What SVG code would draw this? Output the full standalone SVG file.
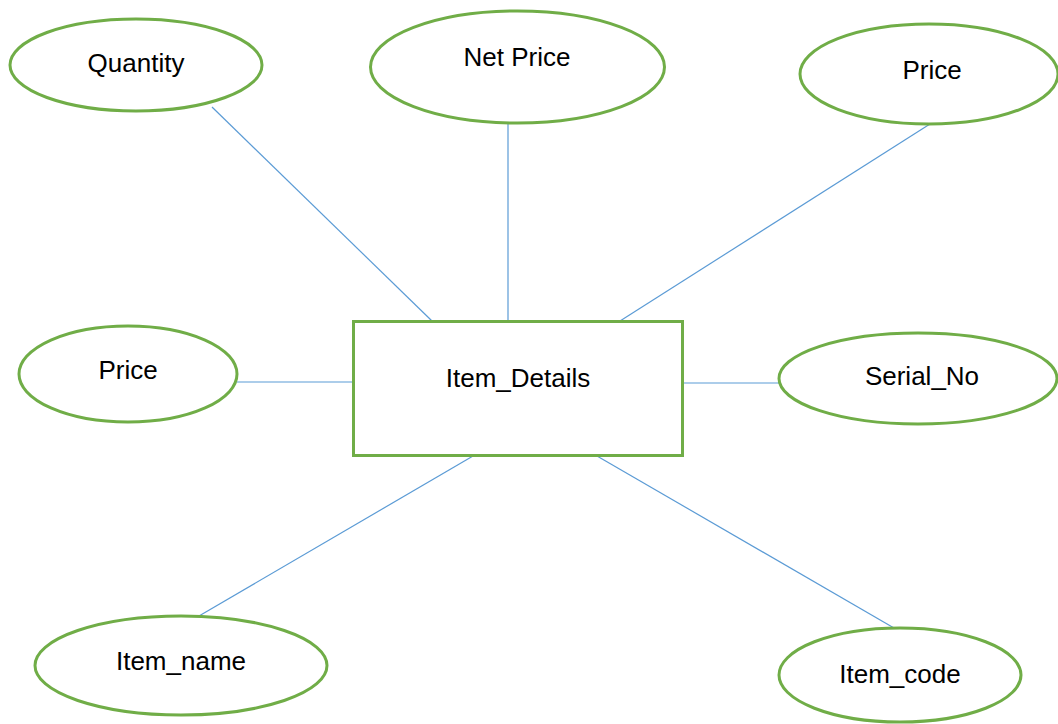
<svg xmlns="http://www.w3.org/2000/svg" width="1058" height="724" viewBox="0 0 1058 724">
<style>
.n{fill:#fff;stroke:#70AD47;stroke-width:3}
.t{font-family:"Liberation Sans",Arial,sans-serif;font-size:26px;fill:#000;text-anchor:middle}
.c line{stroke:#5B9BD5;stroke-width:1.2}
</style>
<rect width="1058" height="724" fill="#fff"/>
<g class="c" id="connectors">
<line x1="212" y1="107" x2="432" y2="321"/>
<line x1="508" y1="124" x2="508" y2="321"/>
<line x1="930" y1="124" x2="620" y2="321"/>
<line x1="237" y1="382" x2="353" y2="382"/>
<line x1="683" y1="383" x2="779" y2="383"/>
<line x1="199" y1="616" x2="473" y2="456"/>
<line x1="894" y1="628" x2="597" y2="456"/>
</g>
<g id="item_details"><rect class="n" x="353.5" y="321.5" width="329" height="134"/><text class="t" x="518" y="387">Item_Details</text></g>
<g id="quantity"><ellipse class="n" cx="136" cy="65" rx="126" ry="46"/><text class="t" x="136" y="72">Quantity</text></g>
<g id="net_price"><ellipse class="n" cx="517.5" cy="67" rx="147" ry="56"/><text class="t" x="517" y="66">Net Price</text></g>
<g id="price_top"><ellipse class="n" cx="929" cy="74" rx="129" ry="50"/><text class="t" x="932" y="79">Price</text></g>
<g id="price_left"><ellipse class="n" cx="128" cy="374" rx="109" ry="48"/><text class="t" x="128" y="379">Price</text></g>
<g id="serial_no"><ellipse class="n" cx="918" cy="378.5" rx="139" ry="45.5"/><text class="t" x="922" y="385">Serial_No</text></g>
<g id="item_name"><ellipse class="n" cx="181" cy="665.5" rx="146" ry="49.5"/><text class="t" x="181" y="670">Item_name</text></g>
<g id="item_code"><ellipse class="n" cx="900" cy="675" rx="121" ry="47"/><text class="t" x="900" y="683">Item_code</text></g>
</svg>
